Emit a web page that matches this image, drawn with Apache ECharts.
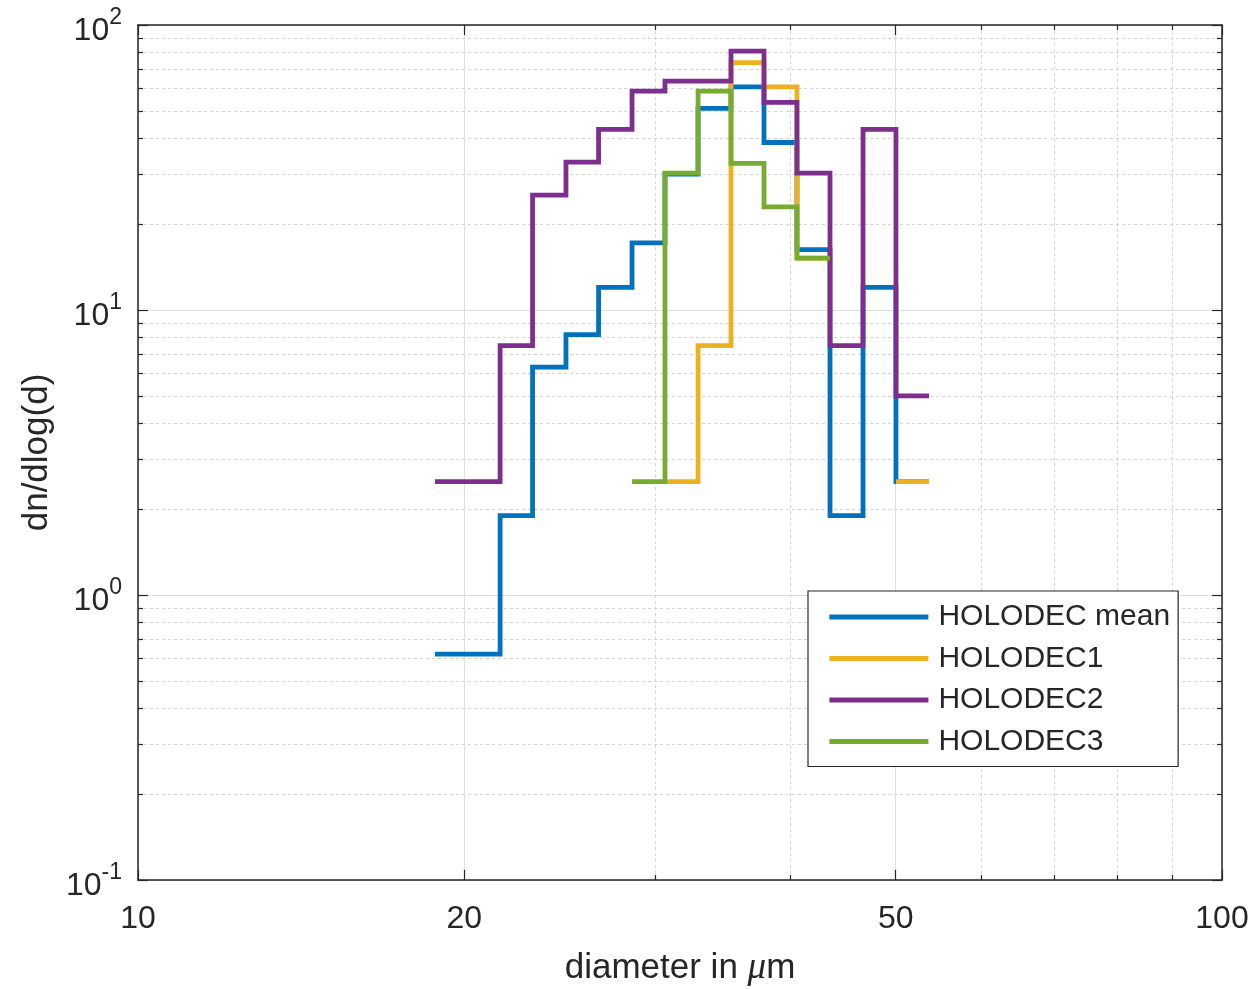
<!DOCTYPE html>
<html>
<head>
<meta charset="utf-8">
<script src="https://cdn.jsdelivr.net/npm/echarts@6/dist/echarts.min.js"></script>
<style>
  html, body { margin: 0; background: #fff; }
  #chart { width: 1257px; height: 989px; }
</style>
</head>
<body>
<div id="chart"></div>
<script>
// bin edges (diameter, um)
var edges = [18.79, 20.14, 21.58, 23.12, 24.82, 26.60, 28.56, 30.63, 32.86, 35.24, 37.80, 40.54, 43.49, 46.65, 50.03, 53.67];
// dn/dlog(d) per bin, null = empty bin
var holoMean = [0.62, 0.62, 1.9, 6.3, 8.2, 12, 17.2, 30, 51, 60.7, 38.7, 16.3, 1.9, 12, 2.5];
var holo1 = [null, null, null, null, null, null, null, 2.5, 7.5, 73.8, 60.7, 15.2, null, null, 2.5];
var holo2 = [2.5, 2.5, 7.5, 25.3, 33, 43, 58.6, 63.5, 63.5, 81, 53.5, 30.2, 7.5, 43, 5];
var holo3 = [null, null, null, null, null, null, 2.5, 30.2, 58.6, 32.7, 23, 15.2, null, null, null];
var names = ["HOLODEC mean", "HOLODEC1", "HOLODEC2", "HOLODEC3"];
var colors = ["#0072BD", "#EDB120", "#7E2F8E", "#77AC30"];

var xMajor = [10, 20, 50, 100];
var xMinor = [30, 40, 60, 70, 80, 90];
var yMajor = [0.1, 1, 10, 100];
var yMinor = [0.2, 0.3, 0.4, 0.5, 0.6, 0.7, 0.8, 0.9, 2, 3, 4, 5, 6, 7, 8, 9, 20, 30, 40, 50, 60, 70, 80, 90];

var font = "Liberation Sans";
var ink = "#262626";

// stairs: each bin -> horizontal segment, verticals join neighbours
function stairs(vals) {
  var pts = [];
  for (var i = 0; i < vals.length; i++) {
    if (vals[i] == null) {
      pts.push([edges[i], "-"]);
      continue;
    }
    pts.push([edges[i], vals[i]]);
    pts.push([edges[i + 1], vals[i]]);
  }
  return pts;
}

function xAxisDef(pos, ticks, len, major) {
  return {
    type: "log", logBase: 10, min: 10, max: 100, position: pos,
    axisLine: { show: major, onZero: false, lineStyle: { color: ink, width: 1.5 } },
    axisTick: { show: true, inside: true, length: len, customValues: ticks,
      lineStyle: { color: ink, width: 1.2 } },
    axisLabel: { show: pos === "bottom" && major, customValues: ticks, margin: 23,
      fontFamily: font, fontSize: 32, color: ink },
    splitLine: { show: pos === "bottom",
      lineStyle: major ? { color: "#dedede", width: 1 } : { color: "#d4d4d4", width: 1, type: [3, 3] } }
  };
}

function yAxisDef(pos, ticks, len, major) {
  return {
    type: "log", logBase: 10, min: 0.1, max: 100, position: pos,
    axisLine: { show: major, onZero: false, lineStyle: { color: ink, width: 1.5 } },
    axisTick: { show: true, inside: true, length: len, customValues: ticks,
      lineStyle: { color: ink, width: 1.2 } },
    axisLabel: {
      show: pos === "left" && major, customValues: ticks, margin: 16,
      padding: [12, 0, 0, 0],
      formatter: function (v) {
        return "{b|10}{s|" + Math.round(Math.log10(v)) + "}";
      },
      rich: {
        b: { fontFamily: font, fontSize: 32, lineHeight: 50, color: ink },
        s: { fontFamily: font, fontSize: 23, lineHeight: 14, verticalAlign: "top", color: ink }
      }
    },
    splitLine: { show: pos === "left",
      lineStyle: major ? { color: "#dedede", width: 1 } : { color: "#d4d4d4", width: 1, type: [3, 3] } }
  };
}

var xAxes = [
  xAxisDef("bottom", xMajor, 10, true),
  xAxisDef("bottom", xMinor, 5, false),
  xAxisDef("top", xMajor, 10, true),
  xAxisDef("top", xMinor, 5, false)
];
xAxes[0].name = "diameter in {mu|\u03bc}m";
xAxes[0].nameLocation = "middle";
xAxes[0].nameGap = 70;
xAxes[0].nameMoveOverlap = false;
xAxes[0].nameTextStyle = {
  fontFamily: font, fontSize: 35, color: ink,
  rich: { mu: { fontFamily: "Liberation Serif", fontStyle: "italic", fontSize: 37, color: ink } }
};

var yAxes = [
  yAxisDef("left", yMajor, 10, true),
  yAxisDef("left", yMinor, 5, false),
  yAxisDef("right", yMajor, 10, true),
  yAxisDef("right", yMinor, 5, false)
];
yAxes[0].name = "dn/dlog(d)";
yAxes[0].nameLocation = "middle";
yAxes[0].nameGap = 83;
yAxes[0].nameMoveOverlap = false;
yAxes[0].nameTextStyle = { fontFamily: font, fontSize: 35, color: ink };

var seriesData = [holoMean, holo1, holo2, holo3];
var series = seriesData.map(function (vals, i) {
  return {
    name: names[i], type: "line", data: stairs(vals),
    xAxisIndex: 0, yAxisIndex: 0,
    symbol: "none", showSymbol: false, connectNulls: false,
    color: colors[i],
    lineStyle: { color: colors[i], width: 4.8, cap: "butt", join: "miter" }
  };
});

var chart = echarts.init(document.getElementById("chart"), null, { renderer: "canvas" });
chart.setOption({
  animation: false,
  backgroundColor: "#fff",
  grid: { left: 138, right: 35, top: 25, bottom: 109, outerBoundsMode: "none" },
  xAxis: xAxes,
  yAxis: yAxes,
  legend: {
    orient: "vertical", left: 808, top: 591,
    padding: [11, 8, 10, 19], itemGap: 11.5, itemWidth: 99, itemHeight: 30,
    backgroundColor: "#fff", borderColor: ink, borderWidth: 1.2, borderRadius: 0,
    itemStyle: { opacity: 0 },
    lineStyle: { width: 4.8, cap: "butt" },
    textStyle: { fontFamily: font, fontSize: 30, lineHeight: 30, color: ink, padding: [0, 0, 0, 5] },
    data: names
  },
  series: series
});
</script>
</body>
</html>
